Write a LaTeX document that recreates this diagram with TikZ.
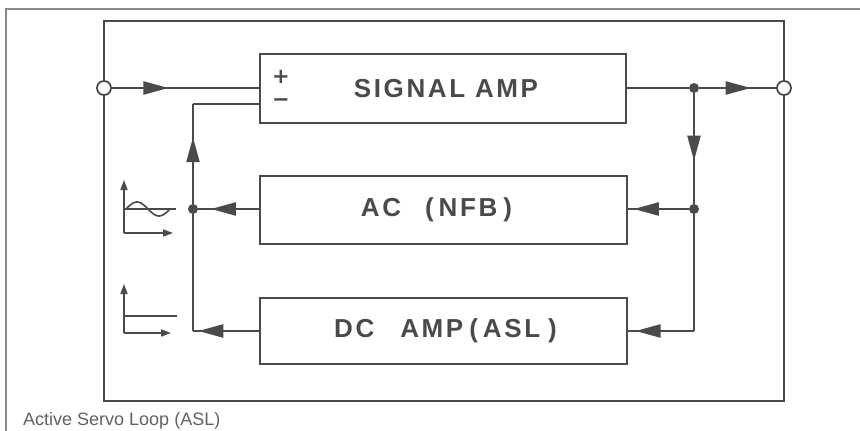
\documentclass[tikz,border=0pt]{standalone}
\usepackage{fontspec}
\setmainfont{Liberation Sans}
\newfontfamily\blkfont[LetterSpace=10]{Liberation Sans}
\newfontfamily\signfont{DejaVu Sans}
\usetikzlibrary{arrows.meta,decorations.markings}
\definecolor{ink}{HTML}{4A4A4A}
\definecolor{frm}{HTML}{8A8A8A}
\tikzset{
  block/.style={draw=ink,line width=2.6pt,inner sep=0pt,text=ink,
    font=\blkfont\bfseries\fontsize{26}{26}\selectfont},
  port/.style={circle,draw=ink,line width=1.8pt,fill=white,minimum size=14pt,inner sep=0pt},
  dot/.style={circle,fill=ink,minimum size=10pt,inner sep=0pt},
  wire/.style={draw=ink,line width=2.2pt},
  arr/.style={postaction={decorate},decoration={markings,
    mark=at position #1 with {\arrow{Triangle[length=25pt,width=13pt]}}}},
  small/.style={draw=ink,line width=1.6pt,-{Triangle[length=10pt,width=7pt]}},
  sign/.style={text=ink,inner sep=0pt,font=\signfont\bfseries\fontsize{21}{21}\selectfont},
}
\begin{document}
\begin{tikzpicture}[x=1pt,y=-1pt]
\useasboundingbox (0,0) rectangle (860,431);
% outer frame
\draw[frm,line width=1.8pt] (6,431) -- (6,9) -- (860,9);
% inner frame
\draw[ink,line width=2pt] (104,21) rectangle (784,401);
% ports
\node[port] (in) at (104,88) {};
\node[port] (out) at (784,88) {};
% blocks
\node[block,minimum width=366pt,minimum height=69pt] (sig) at (443,88.5) {\hspace{6pt}SIGNAL AMP};
\node[block,minimum width=367pt,minimum height=68pt] (ac) at (443.5,210) {\hspace{-14pt}AC\hspace{24pt}(\hspace{5pt}NFB\hspace{6pt})};
\node[block,minimum width=367pt,minimum height=66pt] (dc) at (443.5,331) {\hspace{4pt}DC\hspace{26pt}AMP\hspace{6pt}(\hspace{5pt}ASL\hspace{8pt})};
\node[sign] (plus) at (281,77) {+};
\node[sign] (minus) at (281,103) {\textminus};
% junctions
\node[dot] (j1) at (694,88) {};
\node[dot] (j2) at (694,209) {};
\node[dot] (jL) at (193,209) {};
\coordinate (c3) at (694,331);
\coordinate (cb) at (193,331);
\coordinate (m) at (193,104);
% wires
\path[wire,arr=0.385] (in.east) -- (in -| sig.west);
\path[wire] (sig.east |- j1) -- (j1);
\path[wire,arr=0.67] (j1) -- (out.west);
\path[wire,arr=0.61] (j1) -- (j2);
\path[wire,arr=0.91] (j2) -- (j2 -| ac.east);
\path[wire] (j2) -- (c3);
\path[wire,arr=0.89] (c3) -- (c3 -| dc.east);
\path[wire,arr=0.79] (jL -| ac.west) -- (jL);
\path[wire,arr=0.92] (cb -| dc.west) -- (cb);
\path[wire] (cb) -- (jL);
\path[wire,arr=0.667] (jL) -- (m);
\path[wire] (m) -- (m -| sig.west);
% AC waveform icon
\coordinate (ao) at (124,233);
\draw[small] (ao) -- (124,180);
\draw[small] (ao) -- (173,233);
\draw[ink,line width=1.6pt] (124,209) -- (176,209);
\draw[ink,line width=1.6pt] plot[domain=0:1,samples=40,smooth] ({126+44*\x},{209-7*sin(360*\x)});
% DC icon
\coordinate (do) at (124,333);
\draw[small] (do) -- (124,284);
\draw[small] (do) -- (171,333);
\draw[ink,line width=1.6pt] (124,316) -- (177,316);
% caption
\node[anchor=base west,inner sep=0pt,text=frm!70!black,font=\fontsize{18}{18}\selectfont] (cap) at (23,425) {Active Servo Loop (ASL)};
\end{tikzpicture}
\end{document}
